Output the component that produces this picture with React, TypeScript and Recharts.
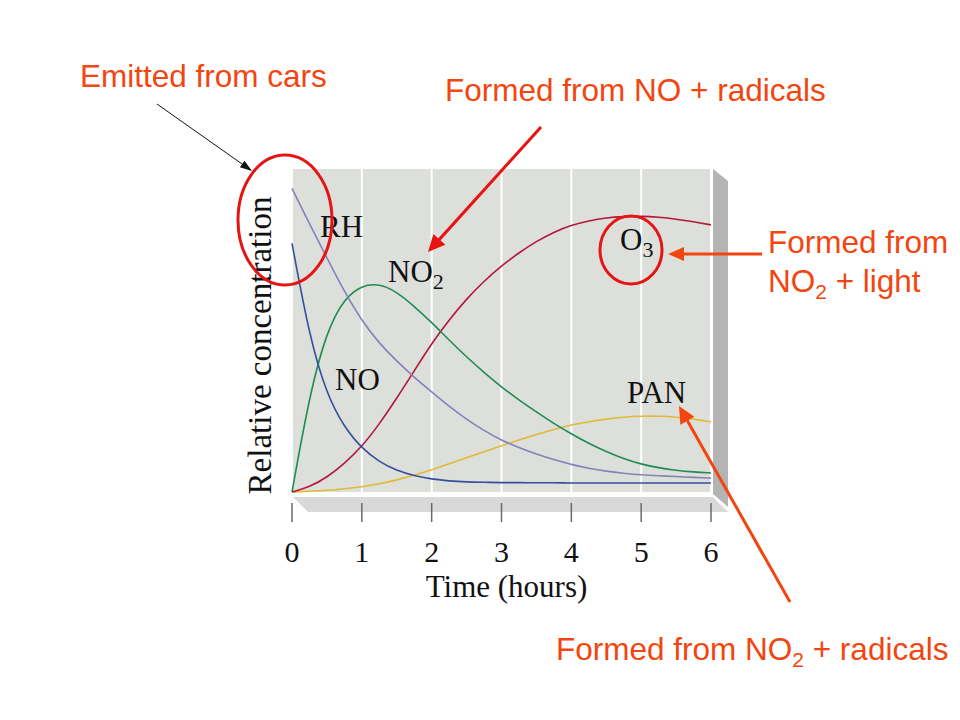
import React from 'react';
import { LineChart, Line, XAxis, YAxis, CartesianGrid, Label } from 'recharts';

// hours, every quarter hour
const TIME = [
  0, 0.25, 0.5, 0.75, 1, 1.25, 1.5, 1.75, 2, 2.25, 2.5, 2.75, 3,
  3.25, 3.5, 3.75, 4, 4.25, 4.5, 4.75, 5, 5.25, 5.5, 5.75, 6,
];

// relative concentration (0 = bottom, 100 = top of panel)
const NO = [77, 48, 30, 20, 13.5, 9.3, 6.6, 5, 4, 3.4, 3.1, 3, 2.9, 2.9, 2.85, 2.85, 2.8, 2.8, 2.8, 2.8, 2.8, 2.8, 2.8, 2.8, 2.8];
const RH = [94, 83, 72.5, 62, 53, 46, 40.5, 35.5, 31, 26.5, 22.5, 19, 16, 13.7, 11.7, 10, 8.5, 7.3, 6.4, 5.8, 5.3, 5, 4.8, 4.5, 4.3];
const NO2 = [0, 30, 50, 60, 64, 64.5, 62, 57.5, 52.5, 47, 41.8, 37, 32.5, 28.5, 24.8, 21.2, 18, 15, 12.5, 10.3, 8.6, 7.5, 6.7, 6.2, 5.9];
const O3 = [0, 1.5, 4.5, 8.8, 14, 21, 29, 37.5, 46, 53.3, 59.8, 65.3, 70, 74.1, 77.6, 80.5, 82.6, 84, 84.9, 85.3, 85.4, 85.1, 84.5, 83.7, 82.7];
const PAN = [0, 0.2, 0.5, 1, 1.6, 2.5, 3.7, 5.2, 6.9, 8.7, 10.6, 12.5, 14.3, 16.1, 17.8, 19.4, 20.8, 21.8, 22.6, 23.2, 23.5, 23.5, 23.2, 22.6, 21.7];

const X_TICKS = [0, 1, 2, 3, 4, 5, 6];

const data = TIME.map((t, i) => ({
  t,
  NO: NO[i],
  RH: RH[i],
  NO2: NO2[i],
  O3: O3[i],
  PAN: PAN[i],
}));

const SERIF = '"Liberation Serif", "Times New Roman", serif';
const SANS = '"Liberation Sans", Arial, sans-serif';
const NOTE = '#f2450f';

function TimeTick(props: any) {
  const { x, y, payload } = props;
  return (
    <g>
      <line x1={x} x2={x} y1={y + 11} y2={y + 30} stroke="#6a6a6a" strokeWidth={1.5} />
      <text x={x} y={y + 70} textAnchor="middle" fontFamily={SERIF} fontSize={30} fill="#111">
        {payload.value}
      </text>
    </g>
  );
}

function Arrow({ x1, y1, x2, y2, color, width = 3, head = 16, half = 7 }: any) {
  const dx = x2 - x1;
  const dy = y2 - y1;
  const len = Math.sqrt(dx * dx + dy * dy);
  const ux = dx / len;
  const uy = dy / len;
  const bx = x2 - ux * head;
  const by = y2 - uy * head;
  const pts = `${x2},${y2} ${bx - uy * half},${by + ux * half} ${bx + uy * half},${by - ux * half}`;
  return (
    <g>
      <line x1={x1} y1={y1} x2={bx + ux * 2} y2={by + uy * 2} stroke={color} strokeWidth={width} />
      <polygon points={pts} fill={color} />
    </g>
  );
}

export default function App() {
  return (
    <div style={{ position: 'relative', width: 960, height: 720, background: '#fff' }}>
      <style>{'body{margin:0}'}</style>
      <svg width={960} height={720} style={{ position: 'absolute', left: 0, top: 0 }}>
        {/* 3D frame of the panel */}
        <polygon points="713,169 728,181 728,507 713,494" fill="#b4b4b4" />
        <polygon points="293,497 713,497 728,512 308,512" fill="#d9d9d9" />
      </svg>
      <div style={{ position: 'absolute', left: 0, top: 0 }}>
        <LineChart width={960} height={720} data={data} margin={{ top: 169, right: 249, bottom: 198, left: 291 }}>
          <CartesianGrid horizontal={false} stroke="#ffffff" strokeWidth={2} fill="#dddfdb" />
          <XAxis
            dataKey="t"
            type="number"
            domain={[0, 6]}
            ticks={X_TICKS}
            axisLine={false}
            tickLine={false}
            tickSize={0}
            tickMargin={0}
            height={30}
            tick={<TimeTick />}
          >
            <Label
              content={(p: any) => {
                const vb = p.viewBox;
                return (
                  <text x={vb.x + vb.width / 2 + 5} y={vb.y + 105} textAnchor="middle" fontFamily={SERIF} fontSize={31} fill="#111">
                    Time (hours)
                  </text>
                );
              }}
            />
          </XAxis>
          <YAxis type="number" domain={[0, 100]} width={1} axisLine={false} tickLine={false} tick={false}>
            <Label
              content={(p: any) => {
                const vb = p.viewBox;
                const cx = vb.x - 20;
                const cy = vb.y + vb.height / 2 + 15;
                return (
                  <text
                    x={cx}
                    y={cy}
                    transform={`rotate(-90 ${cx} ${cy})`}
                    textAnchor="middle"
                    fontFamily={SERIF}
                    fontSize={33}
                    fill="#111"
                  >
                    Relative concentration
                  </text>
                );
              }}
            />
          </YAxis>
          <Line dataKey="PAN" type="basis" stroke="#e2b935" strokeWidth={1.6} dot={false} isAnimationActive={false} />
          <Line dataKey="O3" type="basis" stroke="#b3173c" strokeWidth={1.6} dot={false} isAnimationActive={false} />
          <Line dataKey="NO2" type="basis" stroke="#1f8c52" strokeWidth={1.6} dot={false} isAnimationActive={false} />
          <Line dataKey="RH" type="basis" stroke="#8880b8" strokeWidth={1.6} dot={false} isAnimationActive={false} />
          <Line dataKey="NO" type="basis" stroke="#34509c" strokeWidth={1.6} dot={false} isAnimationActive={false} />
        </LineChart>
      </div>
      <svg width={960} height={720} style={{ position: 'absolute', left: 0, top: 0, pointerEvents: 'none' }}>
        {/* curve labels */}
        <g fontFamily={SERIF} fontSize={31} fill="#111">
          <text x={320} y={237}>RH</text>
          <text x={388} y={282}>
            NO<tspan fontSize={22} dy={7}>2</tspan>
          </text>
          <text x={335} y={390}>NO</text>
          <text x={620} y={250}>
            O<tspan fontSize={22} dy={7}>3</tspan>
          </text>
          <text x={627} y={403}>PAN</text>
        </g>

        {/* annotations */}
        <g fontFamily={SANS} fontSize={31.5} fill={NOTE}>
          <text x={80} y={87}>Emitted from cars</text>
          <text x={445} y={101}>Formed from NO + radicals</text>
          <text x={768} y={253}>Formed from</text>
          <text x={768} y={292}>
            NO<tspan fontSize={21} dy={7}>2</tspan>
            <tspan dy={-7}> + light</tspan>
          </text>
          <text x={556} y={660}>
            Formed from NO<tspan fontSize={21} dy={7}>2</tspan>
            <tspan dy={-7}> + radicals</tspan>
          </text>
        </g>

        <ellipse cx={285} cy={220} rx={47} ry={65} fill="none" stroke="#e51515" strokeWidth={3} />
        <ellipse cx={631} cy={250} rx={31} ry={34} fill="none" stroke="#e51515" strokeWidth={3} />

        <Arrow x1={157} y1={104} x2={252} y2={171} color="#111" width={1} head={12} half={4} />
        <Arrow x1={541} y1={127} x2={428} y2={252} color="#e81313" width={3} head={17} half={8} />
        <Arrow x1={762} y1={254} x2={668} y2={254} color={NOTE} width={3} head={16} half={7} />
        <Arrow x1={790} y1={602} x2={679} y2={406} color={NOTE} width={3} head={17} half={8} />
      </svg>
    </div>
  );
}
